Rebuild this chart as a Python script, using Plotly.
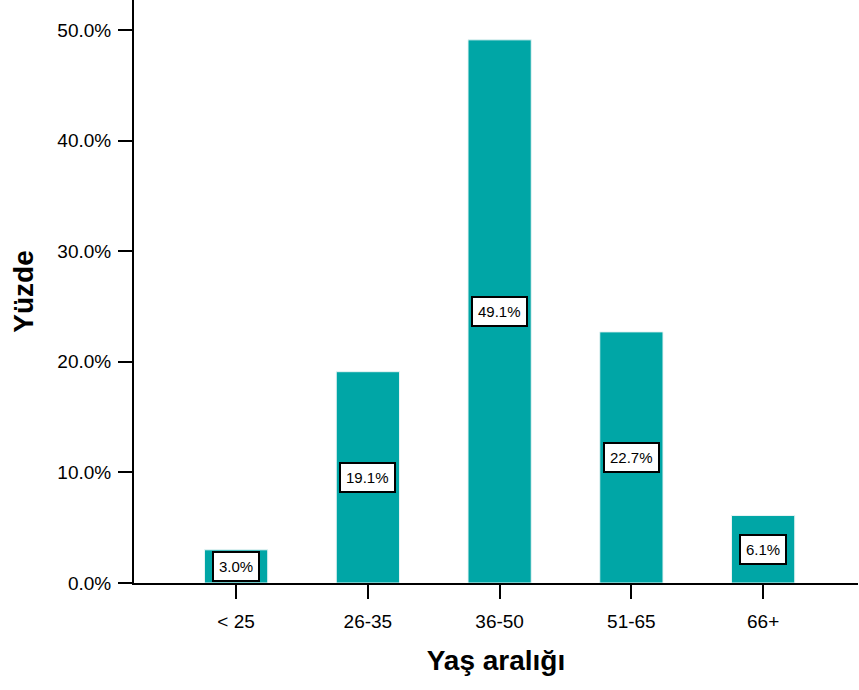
import plotly.graph_objects as go

categories = ["< 25", "26-35", "36-50", "51-65", "66+"]
values = [3.0, 19.1, 49.1, 22.7, 6.1]
labels = ["3.0%", "19.1%", "49.1%", "22.7%", "6.1%"]
ytick_vals = [0, 10, 20, 30, 40, 50]
ytick_text = ["0.0%", "10.0%", "20.0%", "30.0%", "40.0%", "50.0%"]

FONT = "Liberation Sans, Arial, sans-serif"

fig = go.Figure()
fig.add_trace(go.Bar(
    x=list(range(len(categories))),
    y=values,
    width=0.48,
    marker=dict(color="#00a6a6", line=dict(color="#e8f4f4", width=1)),
    hoverinfo="skip",
))

for i, (v, t) in enumerate(zip(values, labels)):
    fig.add_annotation(
        x=i, y=v / 2, xref="x", yref="y", text=t, showarrow=False,
        font=dict(family=FONT, size=15, color="black"),
        bgcolor="white", bordercolor="black", borderwidth=2, borderpad=5,
    )

fig.update_layout(
    width=859, height=690,
    margin=dict(l=134, r=1, t=0, b=107),
    paper_bgcolor="white", plot_bgcolor="white",
    showlegend=False,
    font=dict(family=FONT, size=19, color="black"),
    xaxis=dict(
        range=[-0.775, 4.72],
        tickvals=list(range(len(categories))),
        ticktext=categories,
        showline=True, linecolor="black", linewidth=2,
        ticks="outside", ticklen=14, tickwidth=2, tickcolor="black",
        ticklabelstandoff=6,
        showgrid=False, zeroline=False,
        layer="below traces",
        tickfont=dict(family=FONT, size=19),
        title=dict(text="<b>Yaş aralığı</b>", font=dict(family=FONT, size=28), standoff=20),
    ),
    yaxis=dict(
        range=[0, 52.7],
        tickvals=ytick_vals, ticktext=ytick_text,
        showline=True, linecolor="black", linewidth=2,
        ticks="outside", ticklen=14, tickwidth=2, tickcolor="black",
        ticklabelstandoff=3,
        showgrid=False, zeroline=False,
        layer="below traces",
        tickfont=dict(family=FONT, size=19),
        title=dict(text="<b>Yüzde</b>", font=dict(family=FONT, size=28), standoff=16),
    ),
)

fig.write_html("out.html", config={"displayModeBar": False},
               post_script="document.body.style.margin='0';")
